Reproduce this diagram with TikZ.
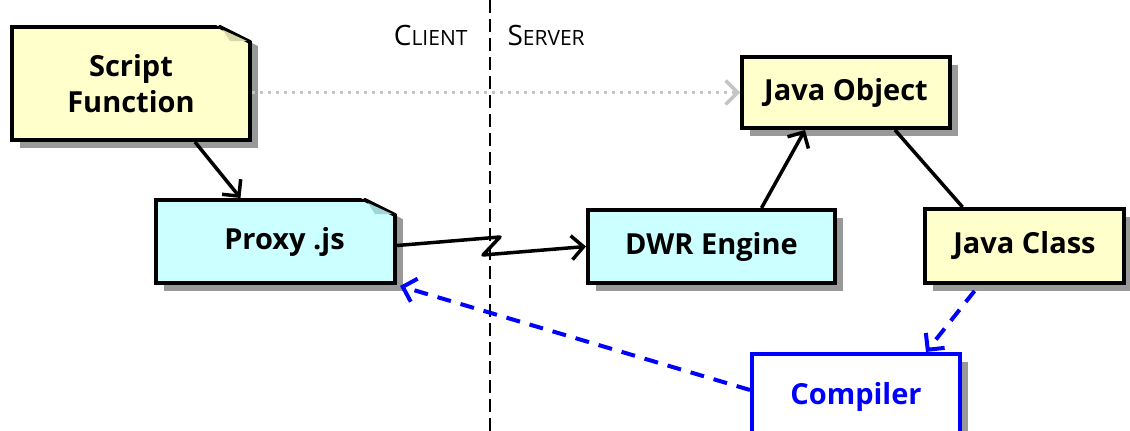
\documentclass[tikz,border=0pt]{standalone}
\usepackage{fontspec}
\setmainfont{Open Sans}
\usetikzlibrary{arrows.meta,positioning,shadows,calc}
\usepackage{xcolor}

\definecolor{noteyellow}{HTML}{FFFFCC}
\definecolor{notecyan}{HTML}{CCFFFF}
\definecolor{foldyellow}{HTML}{D6D6A8}
\definecolor{foldcyan}{HTML}{9ED6D6}
\definecolor{shadowgray}{HTML}{999999}
\definecolor{dotgray}{HTML}{C4C4C4}
\definecolor{compblue}{HTML}{0000FF}

\begin{document}
\begin{tikzpicture}[
  x=1pt, y=-1pt,
  font=\fontsize{29}{36}\selectfont\bfseries,
  box/.style={draw, line width=4pt, align=center, inner sep=0pt,
    drop shadow={shadow xshift=8pt, shadow yshift=-8pt, fill=shadowgray, opacity=1}},
  cutline/.style={line width=4pt, line cap=round},
  arrow/.style={-{Straight Barb[length=12pt,width=24pt]}, line width=3.5pt},
  dotarrow/.style={-{Straight Barb[length=12pt,width=24pt]}, line width=3.5pt, dotgray,
    dash pattern=on 3pt off 5pt},
  bluearrow/.style={-{Straight Barb[length=12pt,width=24pt]}, line width=4pt, compblue,
    dash pattern=on 14pt off 10pt}
]
\useasboundingbox (0,0) rectangle (1130,431);
\clip (0,0) rectangle (1130,431);

% client / server split
\draw[line width=2pt, dash pattern=on 13pt off 6pt] (490,0) -- (490,431);
\node[anchor=base east, font=\fontsize{28}{28}\selectfont] (client) at (471,45)
  {C{\fontsize{21}{21}\selectfont LIENT}};
\node[anchor=base west, font=\fontsize{28}{28}\selectfont] (server) at (504,45)
  {S{\fontsize{21}{21}\selectfont ERVER}};

% notes, with the top right corner folded
\node[box, fill=noteyellow, minimum width=238, minimum height=113] (script) at (131,83.5) {Script\\Function};
\fill[white] (212,23) -- (264,23) -- (264,49) -- cycle;
\draw[cutline] (220,27) -- (250,42);
\fill[foldyellow] (223,30) -- (230,41) -- (247,41) -- cycle;

\node[box, fill=notecyan, minimum width=239, minimum height=83] (proxy) at (275.5,241.5) {\hspace{18pt}Proxy .js};
\fill[white] (357,196) -- (409,196) -- (409,222) -- cycle;
\draw[cutline] (365,200) -- (395,215);
\fill[foldcyan] (368,203) -- (375,214) -- (392,214) -- cycle;

% server side
\node[box, fill=notecyan, minimum width=247, minimum height=73] (dwr) at (711.5,246.5) {DWR Engine};
\node[box, fill=noteyellow, minimum width=208, minimum height=71] (obj) at (846,92.5) {Java Object};
\node[box, fill=noteyellow, minimum width=199, minimum height=74] (cls) at (1024.5,246) {Java Class};
\node[box, fill=white, draw=compblue, text=compblue, minimum width=208, minimum height=86] (comp)
  at (856,397) {Compiler};

\coordinate (zigA) at (500,237);
\coordinate (zigB) at (483,255);

\draw[arrow] ([xshift=64pt]script.south) -- ([xshift=-35pt]proxy.north);
\draw[dotarrow] (script.east |- obj.west) -- (obj.west);
\draw[arrow, line join=round] ([yshift=-4pt]proxy.east) -- (zigA) -- (zigB) -- (dwr.west);
\draw[arrow] ([xshift=50pt]dwr.north) -- ([xshift=-41pt]obj.south);
\draw[line width=3.5pt] ([xshift=49pt]obj.south) -- ([xshift=-62pt]cls.north);
\draw[bluearrow] ([xshift=-50pt, yshift=-6pt]cls.south) -- ([xshift=70pt]comp.north);
\draw[bluearrow] ([yshift=7pt]comp.west) -- ([shift={(3pt,-1pt)}]proxy.south east);

\end{tikzpicture}
\end{document}
